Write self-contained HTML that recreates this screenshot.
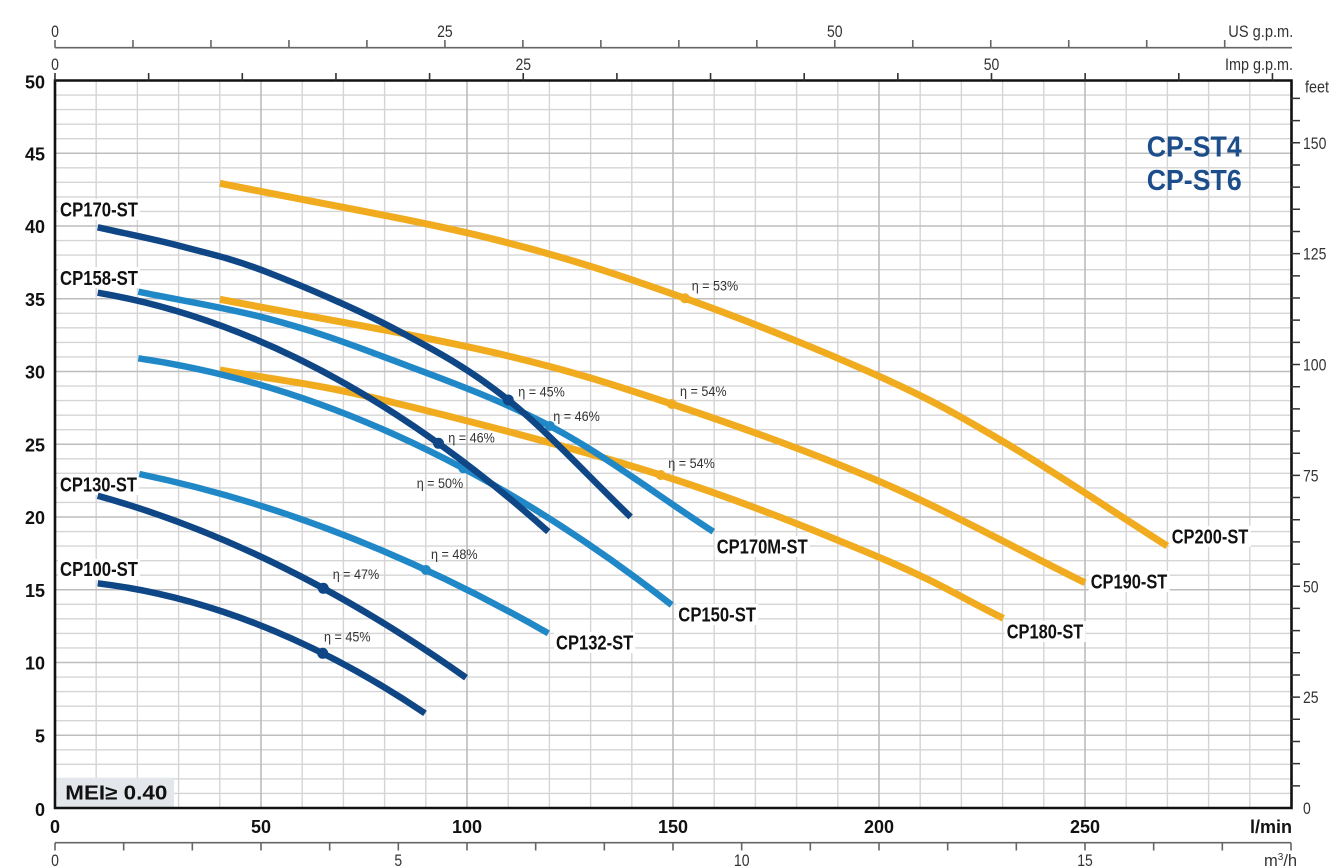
<!DOCTYPE html>
<html><head><meta charset="utf-8"><style>
html,body{margin:0;padding:0;background:#fff;}
svg{display:block;}
</style></head><body>
<svg width="1331" height="868" viewBox="0 0 1331 868" xmlns="http://www.w3.org/2000/svg">
<rect x="0" y="0" width="1331" height="868" fill="#fff"/>
<!-- minor grid -->
<path fill="none" stroke="#d5d5d5" stroke-width="1.4" d="M96.2 80.5V808M137.4 80.5V808M178.6 80.5V808M219.8 80.5V808M302.2 80.5V808M343.4 80.5V808M384.6 80.5V808M425.8 80.5V808M508.2 80.5V808M549.4 80.5V808M590.6 80.5V808M631.8 80.5V808M714.2 80.5V808M755.4 80.5V808M796.6 80.5V808M837.8 80.5V808M920.2 80.5V808M961.4 80.5V808M1002.6 80.5V808M1043.8 80.5V808M1126.2 80.5V808M1167.4 80.5V808M1208.6 80.5V808M1249.8 80.5V808
M55 793.45H1291M55 778.9H1291M55 764.35H1291M55 749.8H1291M55 720.7H1291M55 706.15H1291M55 691.6H1291M55 677.05H1291M55 647.95H1291M55 633.4H1291M55 618.85H1291M55 604.3H1291M55 575.2H1291M55 560.65H1291M55 546.1H1291M55 531.55H1291M55 502.45H1291M55 487.9H1291M55 473.35H1291M55 458.8H1291M55 429.7H1291M55 415.15H1291M55 400.6H1291M55 386.05H1291M55 356.95H1291M55 342.4H1291M55 327.85H1291M55 313.3H1291M55 284.2H1291M55 269.65H1291M55 255.1H1291M55 240.55H1291M55 211.45H1291M55 196.9H1291M55 182.35H1291M55 167.8H1291M55 138.7H1291M55 124.15H1291M55 109.6H1291M55 95.05H1291"/>
<!-- major grid -->
<path fill="none" stroke="#bdbdbd" stroke-width="1.6" d="M261 80.5V808M467 80.5V808M673 80.5V808M879 80.5V808M1085 80.5V808M55 735.25H1291M55 662.5H1291M55 589.75H1291M55 517H1291M55 444.25H1291M55 371.5H1291M55 298.75H1291M55 226H1291M55 153.25H1291"/>

<!-- label backgrounds -->
<g fill="#fff">
<rect x="58" y="199" width="82" height="21"/>
<rect x="58" y="267" width="82" height="21"/>
<rect x="58" y="474" width="81" height="21"/>
<rect x="58" y="559" width="82" height="21"/>
<rect x="714.7" y="536" width="95" height="21"/>
<rect x="676.3" y="604" width="82" height="21"/>
<rect x="554" y="632" width="81" height="21"/>
<rect x="1169.7" y="526" width="81" height="21"/>
<rect x="1088.7" y="571" width="81" height="21"/>
<rect x="1004.7" y="621" width="81" height="21"/>
</g>
<!-- MEI box -->
<rect x="56.7" y="777.7" width="117.3" height="29.6" fill="#e3e6ea"/>

<!-- frame -->
<path fill="none" stroke="#111" stroke-width="2.6" d="M55 80.5H1291.5V808H55Z"/>

<!-- top US gpm axis -->
<path fill="none" stroke="#666" stroke-width="1.6" d="M55 47.7H1292M55 40V47.7M132.98 40V47.7M210.96 40V47.7M288.94 40V47.7M366.92 40V47.7M444.9 40V47.7M522.88 40V47.7M600.86 40V47.7M678.84 40V47.7M756.82 40V47.7M834.8 40V47.7M912.78 40V47.7M990.76 40V47.7M1068.74 40V47.7M1146.72 40V47.7M1224.7 40V47.7"/>
<!-- imp gpm ticks -->
<path fill="none" stroke="#333" stroke-width="1.6" d="M55 73V80.5M148.65 73V80.5M242.3 73V80.5M335.95 73V80.5M429.6 73V80.5M523.25 73V80.5M616.9 73V80.5M710.55 73V80.5M804.2 73V80.5M897.85 73V80.5M991.5 73V80.5M1085.15 73V80.5M1178.8 73V80.5M1272.45 73V80.5"/>
<!-- m3/h axis -->
<path fill="none" stroke="#666" stroke-width="1.6" d="M55 842.7H1291M55 842.7V850.5M123.67 842.7V850.5M192.33 842.7V850.5M261 842.7V850.5M329.67 842.7V850.5M398.33 842.7V850.5M467 842.7V850.5M535.67 842.7V850.5M604.33 842.7V850.5M673 842.7V850.5M741.67 842.7V850.5M810.33 842.7V850.5M879 842.7V850.5M947.67 842.7V850.5M1016.33 842.7V850.5M1085 842.7V850.5M1153.67 842.7V850.5M1222.33 842.7V850.5M1291 842.7V850.5"/>
<!-- feet ticks -->
<path fill="none" stroke="#333" stroke-width="1.5" d="M1291 785.83H1300M1291 763.65H1300M1291 741.48H1300M1291 719.3H1300M1291 697.13H1300M1291 674.95H1300M1291 652.78H1300M1291 630.61H1300M1291 608.43H1300M1291 586.26H1300M1291 564.08H1300M1291 541.91H1300M1291 519.74H1300M1291 497.56H1300M1291 475.39H1300M1291 453.21H1300M1291 431.04H1300M1291 408.87H1300M1291 386.69H1300M1291 364.52H1300M1291 342.34H1300M1291 320.17H1300M1291 297.99H1300M1291 275.82H1300M1291 253.65H1300M1291 231.47H1300M1291 209.3H1300M1291 187.12H1300M1291 164.95H1300M1291 142.77H1300M1291 120.6H1300M1291 98.43H1300"/>

<!-- curves: yellow -->
<g fill="none" stroke="#f1ab1f" stroke-width="7" stroke-linejoin="round">
<path d="M220 183.3C310 201.63 412.5 219.13 490 238.3C567.5 257.47 620 275.23 685 298.3C750 321.37 826.95 352.8 880 376.7C933.05 400.6 955.42 413.48 1003.3 441.7C1051.18 469.92 1112.63 511.23 1167.3 546"/>
<path d="M220 299.3C310 316.77 414.72 334.25 490 351.7C565.28 369.15 606.7 382.33 671.7 404C736.7 425.67 811.12 451.92 880 481.7C948.88 511.48 1016.67 549.03 1085 582.7"/>
<path d="M220 370C273.33 379.77 306.55 381.8 380 399.3C453.45 416.8 577.37 448.6 660.7 475C744.03 501.4 822.9 533.82 880 557.7C937.1 581.58 962.2 598.1 1003.3 618.3"/>
</g>
<g fill="#f1ab1f"><circle cx="685" cy="298.3" r="5"/><circle cx="671.7" cy="404" r="5"/><circle cx="660.7" cy="475" r="5"/></g>
<!-- light blue -->
<g fill="none" stroke="#2188c7" stroke-width="6.5" stroke-linejoin="round">
<path d="M138.3 291.7C181.1 300.57 225.92 307.48 266.7 318.3C307.48 329.12 335.78 338.65 383 356.6C430.22 374.55 494.95 396.82 550 426C605.05 455.18 658.87 496.47 713.3 531.7"/>
<path d="M138.3 358.3Q405 396.98 671.7 605"/>
<path d="M139.3 474Q343.8 516.28 548.3 633.3"/>
</g>
<g fill="#2188c7"><circle cx="550" cy="426" r="5"/><circle cx="463.3" cy="468.3" r="5"/><circle cx="426" cy="570" r="5"/></g>
<!-- dark blue -->
<g fill="none" stroke="#0f4685" stroke-width="6.5" stroke-linejoin="round">
<path d="M97.7 227.3C125.13 233.53 151.83 238.55 180 246C208.17 253.45 230.58 258 266.7 272C302.82 286 356.43 308.67 396.7 330C436.97 351.33 469.3 368.83 508.3 400C547.3 431.17 589.9 478 630.7 517"/>
<path d="M97.7 292.7Q323 330.77 548.3 531.7"/>
<path d="M97.7 495.7Q281.85 546.92 466 677.7"/>
<path d="M97.7 583.3Q261.35 603.23 425 713.3"/>
</g>
<g fill="#0f4685"><circle cx="508.3" cy="400" r="5.5"/><circle cx="438.5" cy="443.3" r="5.5"/><circle cx="323.3" cy="588.3" r="5.5"/><circle cx="322.7" cy="653.3" r="5.5"/></g>

<!-- eta labels -->
<g font-family="'Liberation Sans Narrow','Liberation Sans',sans-serif" font-size="14" fill="#333">
<text x="691.7" y="290.5" textLength="46.5" lengthAdjust="spacingAndGlyphs">η = 53%</text>
<text x="680" y="396" textLength="46.5" lengthAdjust="spacingAndGlyphs">η = 54%</text>
<text x="668.3" y="468" textLength="46.5" lengthAdjust="spacingAndGlyphs">η = 54%</text>
<text x="518.3" y="396.5" textLength="46.5" lengthAdjust="spacingAndGlyphs">η = 45%</text>
<text x="553.3" y="421" textLength="46.5" lengthAdjust="spacingAndGlyphs">η = 46%</text>
<text x="448.3" y="442.5" textLength="46.5" lengthAdjust="spacingAndGlyphs">η = 46%</text>
<text x="416.7" y="488" textLength="46.5" lengthAdjust="spacingAndGlyphs">η = 50%</text>
<text x="431" y="559" textLength="46.5" lengthAdjust="spacingAndGlyphs">η = 48%</text>
<text x="332.7" y="579" textLength="46.5" lengthAdjust="spacingAndGlyphs">η = 47%</text>
<text x="324" y="641.5" textLength="46.5" lengthAdjust="spacingAndGlyphs">η = 45%</text>
</g>

<!-- curve labels -->
<g font-family="'Liberation Sans Narrow','Liberation Sans',sans-serif" font-size="20.5" font-weight="bold" fill="#111">
<text x="60" y="216.7" textLength="78" lengthAdjust="spacingAndGlyphs">CP170-ST</text>
<text x="60" y="285" textLength="78" lengthAdjust="spacingAndGlyphs">CP158-ST</text>
<text x="60" y="491.7" textLength="77" lengthAdjust="spacingAndGlyphs">CP130-ST</text>
<text x="60" y="576" textLength="78" lengthAdjust="spacingAndGlyphs">CP100-ST</text>
<text x="716.7" y="553.3" textLength="91" lengthAdjust="spacingAndGlyphs">CP170M-ST</text>
<text x="678.3" y="621.7" textLength="77.7" lengthAdjust="spacingAndGlyphs">CP150-ST</text>
<text x="556" y="649.5" textLength="77.3" lengthAdjust="spacingAndGlyphs">CP132-ST</text>
<text x="1171.7" y="543.3" textLength="76.6" lengthAdjust="spacingAndGlyphs">CP200-ST</text>
<text x="1090.7" y="588.3" textLength="76.6" lengthAdjust="spacingAndGlyphs">CP190-ST</text>
<text x="1006.7" y="638.3" textLength="76.6" lengthAdjust="spacingAndGlyphs">CP180-ST</text>
</g>

<!-- title -->
<g font-family="'Liberation Sans',sans-serif" font-size="29" font-weight="bold" fill="#1d4e8c">
<text x="1146.7" y="156.7" textLength="95" lengthAdjust="spacingAndGlyphs">CP-ST4</text>
<text x="1146.7" y="190" textLength="95" lengthAdjust="spacingAndGlyphs">CP-ST6</text>
</g>

<!-- MEI -->
<text x="65.3" y="799.3" font-family="'Liberation Sans',sans-serif" font-size="20" font-weight="bold" fill="#111" textLength="102" lengthAdjust="spacingAndGlyphs">MEI≥ 0.40</text>

<!-- left axis labels -->
<g font-family="'Liberation Sans',sans-serif" font-size="18" font-weight="bold" fill="#111" text-anchor="end">
<text x="45" y="816">0</text>
<text x="45" y="742.5">5</text>
<text x="45" y="669.5">10</text>
<text x="45" y="597">15</text>
<text x="45" y="524">20</text>
<text x="45" y="451.5">25</text>
<text x="45" y="378.5">30</text>
<text x="45" y="306">35</text>
<text x="45" y="233">40</text>
<text x="45" y="160.5">45</text>
<text x="45" y="88.5">50</text>
</g>
<!-- bottom l/min labels -->
<g font-family="'Liberation Sans',sans-serif" font-size="18" font-weight="bold" fill="#111" text-anchor="middle">
<text x="55" y="833">0</text>
<text x="261" y="833">50</text>
<text x="467" y="833">100</text>
<text x="673" y="833">150</text>
<text x="879" y="833">200</text>
<text x="1085" y="833">250</text>
<text x="1292" y="833" text-anchor="end">l/min</text>
</g>

<!-- thin axis labels -->
<g font-family="'Liberation Sans Narrow','Liberation Sans',sans-serif" font-size="16.5" fill="#333">
<text x="55" y="37" text-anchor="middle" textLength="7.8" lengthAdjust="spacingAndGlyphs">0</text>
<text x="444.9" y="37" text-anchor="middle" textLength="15.6" lengthAdjust="spacingAndGlyphs">25</text>
<text x="834.8" y="37" text-anchor="middle" textLength="15.6" lengthAdjust="spacingAndGlyphs">50</text>
<text x="1228.3" y="37" textLength="65" lengthAdjust="spacingAndGlyphs">US g.p.m.</text>
<text x="55" y="70" text-anchor="middle" textLength="7.8" lengthAdjust="spacingAndGlyphs">0</text>
<text x="523.3" y="70" text-anchor="middle" textLength="15.6" lengthAdjust="spacingAndGlyphs">25</text>
<text x="991.5" y="70" text-anchor="middle" textLength="15.6" lengthAdjust="spacingAndGlyphs">50</text>
<text x="1225" y="70" textLength="68" lengthAdjust="spacingAndGlyphs">Imp g.p.m.</text>
<text x="1305" y="92.5" textLength="24" lengthAdjust="spacingAndGlyphs">feet</text>
<text x="1303" y="814" textLength="7.8" lengthAdjust="spacingAndGlyphs">0</text>
<text x="1303" y="703" textLength="15.6" lengthAdjust="spacingAndGlyphs">25</text>
<text x="1303" y="592.3" textLength="15.6" lengthAdjust="spacingAndGlyphs">50</text>
<text x="1303" y="481.4" textLength="15.6" lengthAdjust="spacingAndGlyphs">75</text>
<text x="1303" y="370.5" textLength="23.4" lengthAdjust="spacingAndGlyphs">100</text>
<text x="1303" y="259.7" textLength="23.4" lengthAdjust="spacingAndGlyphs">125</text>
<text x="1303" y="148.8" textLength="23.4" lengthAdjust="spacingAndGlyphs">150</text>
<text x="55" y="866" text-anchor="middle" textLength="7.8" lengthAdjust="spacingAndGlyphs">0</text>
<text x="398.3" y="866" text-anchor="middle" textLength="7.8" lengthAdjust="spacingAndGlyphs">5</text>
<text x="741.7" y="866" text-anchor="middle" textLength="15.6" lengthAdjust="spacingAndGlyphs">10</text>
<text x="1085" y="866" text-anchor="middle" textLength="15.6" lengthAdjust="spacingAndGlyphs">15</text>
<text x="1264" y="866">m<tspan font-size="10" dy="-6">3</tspan><tspan dy="6">/h</tspan></text>
</g>
</svg>
</body></html>
